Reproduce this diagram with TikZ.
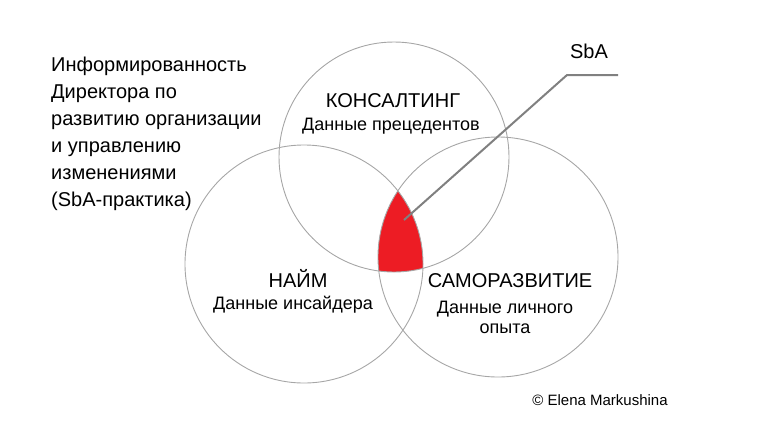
\documentclass[tikz,border=0pt]{standalone}
\usepackage{fontspec}
\setmainfont{Liberation Sans}
\definecolor{ringgray}{HTML}{A6A6A6}
\definecolor{leadgray}{HTML}{808080}
\definecolor{sbared}{HTML}{ED1C24}

\begin{document}
\begin{tikzpicture}[x=1pt, y=-1pt,
                    ring/.style={draw=ringgray, line width=0.9pt},
                    bigtext/.style={font=\fontsize{20}{24}\selectfont, inner sep=0pt, anchor=base},
                    smalltext/.style={font=\fontsize{18}{20}\selectfont, inner sep=0pt, anchor=base},
                    notetext/.style={font=\fontsize{20}{27}\selectfont, inner sep=0pt, align=left, anchor=base west},
                    lead/.style={draw=leadgray, line width=2pt},
                   ]
  \useasboundingbox (0,0) rectangle (767,445);

  %Centres
  \coordinate (consult) at (394,157);
  \coordinate (hire)    at (304,264);
  \coordinate (selfdev) at (498,257);

  %Common part
  \begin{scope}
    \clip (consult) circle[radius=115pt];
    \clip (hire) circle[radius=119pt];
    \fill[sbared] (selfdev) circle[radius=120pt];
  \end{scope}

  %Circles
  \draw[ring] (consult) circle[radius=115pt];
  \draw[ring] (hire)    circle[radius=119pt];
  \draw[ring] (selfdev) circle[radius=120pt];

  %Nodes
  \node[notetext]  (note)      at (51,206)  {Информированность\\Директора по\\развитию организации\\и управлению\\изменениями\\(SbA-практика)};
  \node[bigtext]   (consult_t) at (393,107) {КОНСАЛТИНГ};
  \node[smalltext] (consult_s) at (391,130) {Данные прецедентов};
  \node[bigtext]   (hire_t)    at (298,287) {НАЙМ};
  \node[smalltext] (hire_s)    at (293,309) {Данные инсайдера};
  \node[bigtext]   (selfdev_t) at (510,287) {САМОРАЗВИТИЕ};
  \node[smalltext, align=center] (selfdev_s) at (505,333) {Данные личного\\опыта};
  \node[bigtext]   (sba)       at (589,58)  {SbA};
  \node[font=\fontsize{15}{18}\selectfont, inner sep=0pt, anchor=base] (credit) at (600,405) {© Elena Markushina};

  %Lines
  \coordinate (sba_tip)  at (404,220);
  \coordinate (sba_knee) at (567,75);
  \coordinate (sba_end)  at (618,75);
  \draw[lead] (sba_tip) -- (sba_knee) -- (sba_end);
\end{tikzpicture}
\end{document}
